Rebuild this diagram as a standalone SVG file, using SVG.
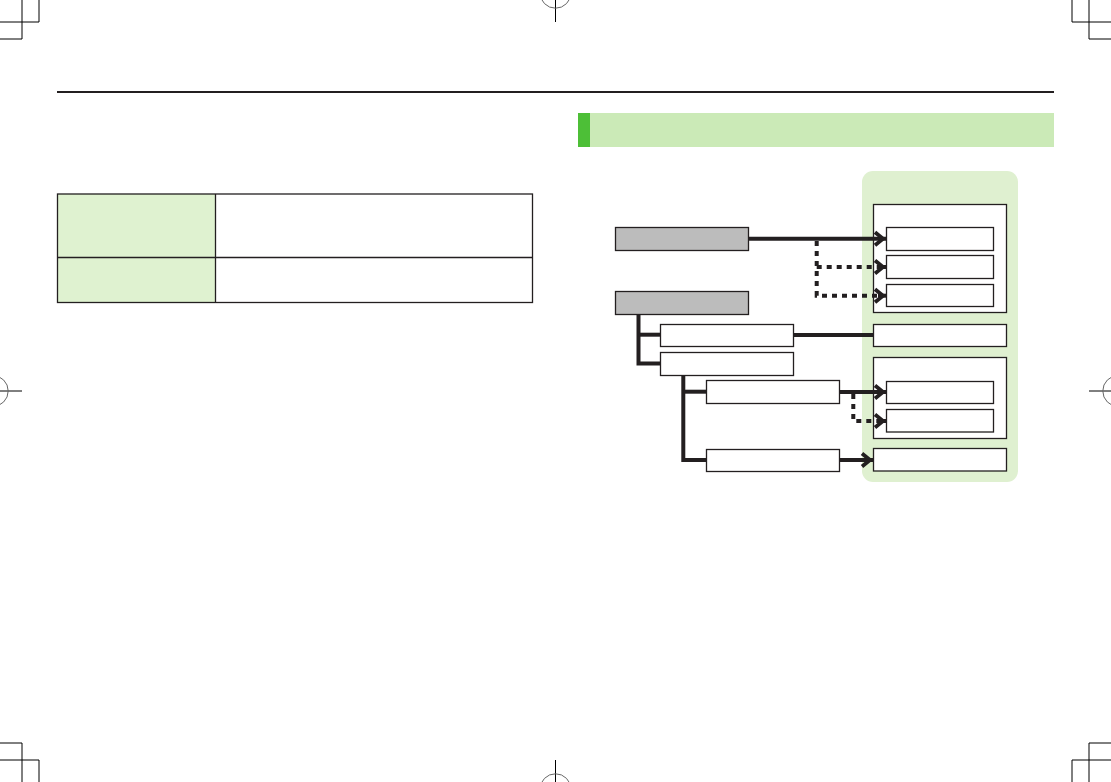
<svg xmlns="http://www.w3.org/2000/svg" width="1111" height="782" viewBox="0 0 1111 782">
<style>
.crop{stroke:#000;stroke-width:1;fill:none}
.reg{stroke:#666;stroke-width:1;fill:none}
.box{fill:#fff;stroke:#231f20;stroke-width:1.3}
.grey{fill:#bcbcbc;stroke:#231f20;stroke-width:1.3}
.cell{stroke:#231f20;stroke-width:1.3}
.ln{stroke:#231f20;stroke-width:4;fill:none}
.dash{stroke:#231f20;stroke-width:4;fill:none;stroke-dasharray:5 5}
</style>
<defs>
<marker id="arr" markerUnits="userSpaceOnUse" markerWidth="16" markerHeight="18" viewBox="-14 -9 16 18" refX="0" refY="0" orient="auto" overflow="visible">
<path d="M-11,-6.5 L-3,0 L-11,6.5" fill="none" stroke="#231f20" stroke-width="3.8" stroke-linejoin="miter"/>
</marker>
</defs>
<rect width="1111" height="782" fill="#fff"/>
<g id="crop-marks">
<path class="crop" d="M22,0V39M39,0V22M0,22H39M0,39H22"/>
<path class="crop" d="M1089,0V39M1072,0V22M1111,22H1072M1111,39H1089"/>
<path class="crop" d="M22,782V743M39,782V760M0,760H39M0,743H22"/>
<path class="crop" d="M1089,782V743M1072,782V760M1111,760H1072M1111,743H1089"/>
<path class="crop" d="M555.5,0V22M555.5,782V760M0,391H22M1111,391H1089"/>
<circle class="reg" cx="555.5" cy="-7.3" r="15.5"/>
<circle class="reg" cx="555.5" cy="789.3" r="15.5"/>
<circle class="reg" cx="-7.3" cy="391" r="15.5"/>
<circle class="reg" cx="1118.3" cy="391" r="15.5"/>
</g>
<line x1="57" y1="92" x2="1054" y2="92" stroke="#231f20" stroke-width="2.2"/>
<g id="table">
<rect x="57.5" y="194" width="158" height="108.5" fill="#dff2d0"/>
<rect x="57.5" y="194" width="475" height="108.5" fill="none" class="cell"/>
<line class="cell" x1="215.5" y1="194" x2="215.5" y2="302.5"/>
<line class="cell" x1="57.5" y1="257.5" x2="532.5" y2="257.5"/>
</g>
<g id="section-header">
<rect x="578" y="113" width="476" height="34" fill="#cbeab7"/>
<rect x="578" y="113" width="12" height="34" fill="#4dbf37"/>
</g>
<g id="panel">
<rect x="862" y="171" width="156" height="311" rx="11" fill="#dff0d0"/>
</g>
<g id="group1"><rect class="box" x="873.5" y="204.5" width="133" height="108"/></g>
<g id="group2"><rect class="box" x="873.5" y="357.5" width="133" height="81"/></g>
<g id="t1"><rect class="box" x="886.5" y="227.5" width="107" height="23"/></g>
<g id="t2"><rect class="box" x="886.5" y="255.5" width="107" height="23"/></g>
<g id="t3"><rect class="box" x="886.5" y="284.5" width="107" height="22"/></g>
<g id="t4"><rect class="box" x="873.5" y="324.5" width="133" height="22"/></g>
<g id="t5"><rect class="box" x="886.5" y="381.5" width="107" height="22"/></g>
<g id="t6"><rect class="box" x="886.5" y="409.5" width="107" height="22.5"/></g>
<g id="t7"><rect class="box" x="873.5" y="448.5" width="133" height="22.5"/></g>
<g id="g1"><rect class="grey" x="615.5" y="227.5" width="133" height="23"/></g>
<g id="g2"><rect class="grey" x="615.5" y="291.5" width="133" height="23"/></g>
<g id="a"><rect class="box" x="660.5" y="324.5" width="133" height="22"/></g>
<g id="b"><rect class="box" x="660.5" y="352.5" width="133" height="23"/></g>
<g id="c"><rect class="box" x="706.5" y="380.5" width="133" height="23"/></g>
<g id="d"><rect class="box" x="706.5" y="449.5" width="133" height="22"/></g>
<g id="connectors">
<path class="ln" d="M638.5,315V363.5H660"/>
<path class="ln" d="M638.5,334.7H660"/>
<path class="ln" d="M683.3,376V460H706"/>
<path class="ln" d="M683.3,391.7H706"/>
<path class="ln" d="M794,335H873"/>
<path class="ln" d="M749,238.7H886" marker-end="url(#arr)"/>
<path class="dash" d="M816.7,241V295.7H878"/>
<path class="dash" d="M816.7,267H878"/>
<path class="ln" d="M878,267H886" marker-end="url(#arr)"/>
<path class="ln" d="M878,295.7H886" marker-end="url(#arr)"/>
<path class="ln" d="M840,392H886" marker-end="url(#arr)"/>
<path class="dash" d="M853.3,394V421H878"/>
<path class="ln" d="M878,421H886" marker-end="url(#arr)"/>
<path class="ln" d="M840,460H873" marker-end="url(#arr)"/>
</g>
</svg>
